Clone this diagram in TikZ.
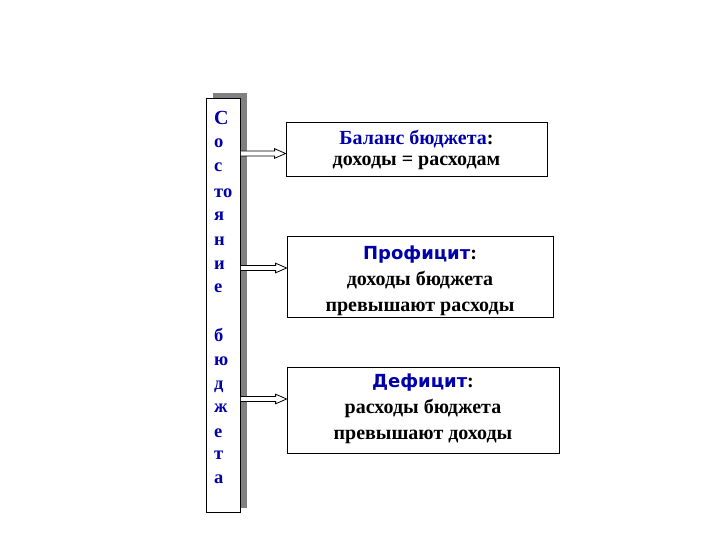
\documentclass[tikz,border=0pt]{standalone}
\usepackage{fontspec}
\setmainfont{Liberation Serif}
\newfontfamily\headsans{DejaVu Sans}
\usetikzlibrary{calc}
\definecolor{txtblue}{RGB}{0,0,170}
\definecolor{shadowgray}{RGB}{128,128,128}
\tikzset{
  infobox/.style={draw, thick, fill=white, inner sep=0pt},
  infotext/.style={align=center, inner sep=0pt,
    font=\fontsize{20}{26}\selectfont\bfseries},
  letter/.style={font=\fontsize{18.5}{20}\selectfont\bfseries, text=txtblue,
    inner sep=0pt, anchor=base west},
  hollowarrow/.style={fill=white, draw, line width=0.8pt, line join=miter},
}
\newcommand{\hollowarr}[2]{%
  \path[hollowarrow] ($(#1)+(0,-2.5)$) -- ($(#2)+(-11,-2.5)$) -- ($(#2)+(-11,-4.8)$)
    -- (#2) -- ($(#2)+(-11,4.8)$) -- ($(#2)+(-11,2.5)$) -- ($(#1)+(0,2.5)$);}
\begin{document}
\begin{tikzpicture}[x=1pt,y=-1pt]
\useasboundingbox (0,0) rectangle (720,540);
% shadow and tall box
\fill[shadowgray] (213,93) rectangle (247,508);
\node[draw, thick, fill=white, minimum width=34pt, minimum height=414pt, inner sep=0pt] (tall) at (223.5,305.5) {};
% letters (baselines)
\node[letter, font=\fontsize{20}{22}\selectfont\bfseries] (l1) at (214,124.5) {С};
\node[letter] (l2) at (214,148) {о};
\node[letter] (l3) at (214,172) {с};
\node[letter] (l4) at (214,197) {то};
\node[letter] (l5) at (214,221) {я};
\node[letter] (l6) at (214,245) {н};
\node[letter] (l7) at (214,269) {и};
\node[letter] (l8) at (214,292) {е};
\node[letter] (l9) at (214,341) {б};
\node[letter] (l10) at (214,365) {ю};
\node[letter] (l11) at (214,389) {д};
\node[letter] (l12) at (214,412) {ж};
\node[letter] (l13) at (214,437) {е};
\node[letter] (l14) at (214,459) {т};
\node[letter] (l15) at (214,483) {а};
% info boxes
\node[infobox, minimum width=261pt, minimum height=54pt] (b1) at (416.5,149) {};
\node[infobox, minimum width=266pt, minimum height=81pt] (b2) at (420,277) {};
\node[infobox, minimum width=272pt, minimum height=86pt] (b3) at (423,410) {};
\node[infotext, font=\fontsize{20}{21}\selectfont\bfseries] (t1) at ($(b1.center)+(0,0.5)$)
  {\textcolor{txtblue}{Баланс бюджета}:\\доходы = расходам};
\node[infotext] (t2) at ($(b2.center)+(0,3.5)$)
  {{\headsans\fontsize{18}{26}\selectfont\bfseries\textcolor{txtblue}{Профицит}}:\\доходы бюджета\\превышают расходы};
\node[infotext] (t3) at ($(b3.center)+(0,-1)$)
  {{\headsans\fontsize{18}{26}\selectfont\bfseries\textcolor{txtblue}{Дефицит}}:\\расходы бюджета\\превышают доходы};
% arrows
\coordinate (a1) at (tall.east |- 0,153.5);
\coordinate (a2) at (tall.east |- 0,268);
\coordinate (a3) at (tall.east |- 0,399);
\coordinate (e1) at (b1.west |- a1);
\coordinate (e2) at (b2.west |- a2);
\coordinate (e3) at (b3.west |- a3);
\hollowarr{a1}{e1}
\hollowarr{a2}{e2}
\hollowarr{a3}{e3}
\end{tikzpicture}
\end{document}
